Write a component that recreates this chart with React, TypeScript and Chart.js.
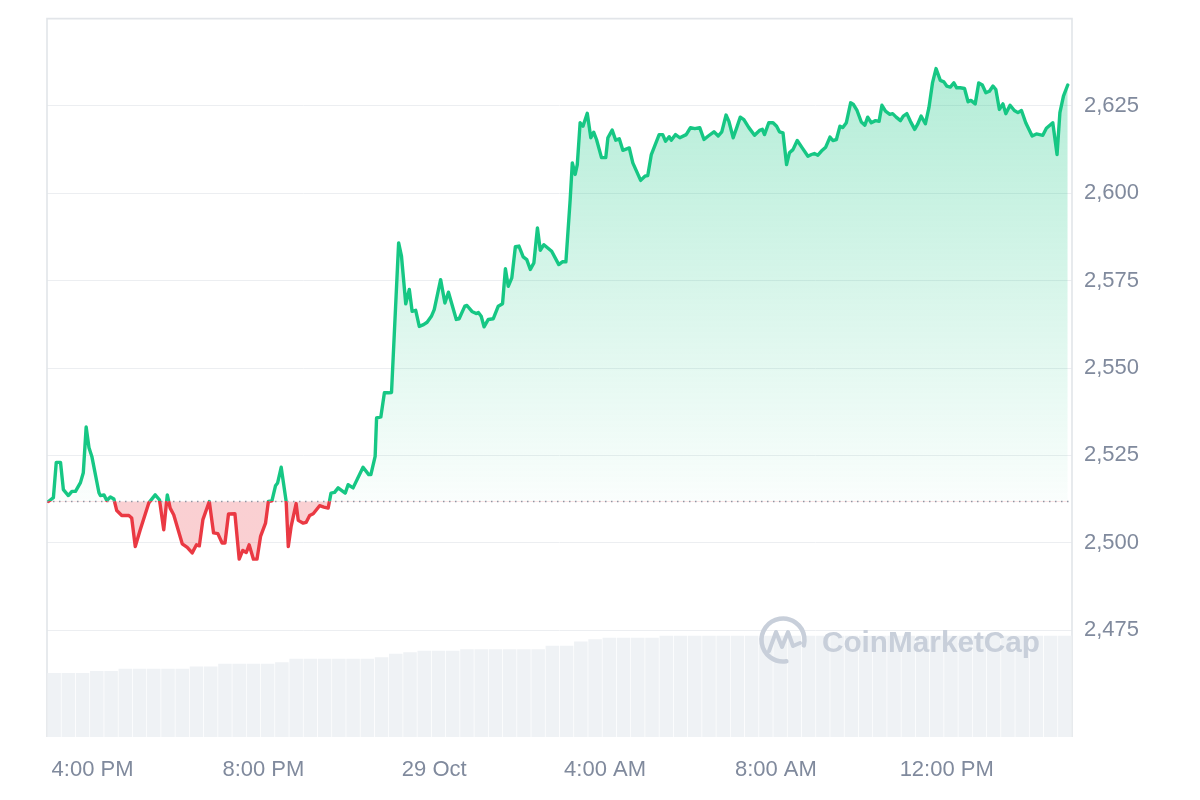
import React, { useEffect, useRef } from "react";
import { Chart, registerables } from "chart.js";

Chart.register(...registerables);

// Opening price (dotted reference line); times are minutes relative to 4:00 PM, 28 Oct
const BASE_PRICE = 2511.8;
const X_MIN = -64;
const X_MAX = 1376;
const Y_MIN = 2444.4;
const Y_MAX = 2650;
const VOL_MAX = 100;

const xTickValues = [0, 240, 480, 720, 960, 1200];
const xTickLabels = ["4:00 PM", "8:00 PM", "29 Oct", "4:00 AM", "8:00 AM", "12:00 PM"];
const yTickValues = [2475, 2500, 2525, 2550, 2575, 2600, 2625];

const priceTimes = [
  -62, -55, -51, -45, -41, -34, -29, -24, -17, -13, -9, -5, -1, 9, 11, 16, 20, 25, 30, 34,
  41, 51, 55, 60, 67, 79, 88, 94, 100, 105, 109, 114, 126, 133, 140, 146, 150, 155, 164, 170,
  176, 182, 186, 191, 200, 206, 211, 216, 220, 226, 231, 236, 243, 247, 252, 257, 260, 265, 272, 275,
  279, 286, 289, 296, 300, 305, 310, 319, 325, 331, 335, 340, 345, 355, 359, 366, 380, 388, 391, 397,
  399, 405, 410, 416, 420, 430, 434, 440, 445, 449, 454, 459, 465, 470, 476, 480, 489, 495, 500, 511,
  515, 523, 526, 533, 539, 542, 546, 550, 556, 563, 570, 576, 580, 584, 589, 594, 599, 605, 610, 615,
  620, 625, 629, 634, 645, 655, 660, 665, 671, 674, 678, 681, 685, 689, 695, 700, 704, 708, 715, 721,
  724, 730, 735, 740, 745, 754, 759, 770, 776, 780, 785, 796, 801, 805, 810, 813, 819, 825, 834, 840,
  846, 853, 859, 865, 873, 879, 884, 890, 894, 900, 905, 910, 915, 922, 930, 937, 941, 944, 950, 956,
  961, 965, 970, 975, 979, 984, 990, 997, 1005, 1010, 1014, 1019, 1024, 1030, 1036, 1040, 1045, 1050, 1054, 1059,
  1065, 1069, 1074, 1080, 1085, 1089, 1094, 1100, 1105, 1109, 1114, 1120, 1124, 1129, 1135, 1139, 1144, 1149, 1155, 1159,
  1164, 1170, 1175, 1180, 1185, 1191, 1196, 1200, 1205, 1210, 1214, 1219, 1225, 1230, 1234, 1240, 1245, 1250, 1255, 1260,
  1265, 1269, 1274, 1279, 1283, 1289, 1295, 1300, 1305, 1311, 1320, 1326, 1335, 1340, 1349, 1355, 1359, 1364, 1370,
];

const prices = [
  2511.8, 2512.9, 2523.0, 2523.0, 2515.2, 2513.5, 2514.7, 2514.7, 2517.2, 2520.0, 2533.1, 2527.2, 2524.7, 2514.3, 2513.5, 2513.7, 2512.1, 2513.1, 2512.5, 2509.2,
  2507.8, 2507.8, 2507.1, 2498.9, 2503.7, 2511.4, 2513.7, 2512.3, 2503.7, 2513.7, 2509.9, 2508.0, 2499.7, 2498.7, 2497.1, 2499.4, 2499.1, 2506.6, 2511.8, 2502.8,
  2502.6, 2499.9, 2499.9, 2508.2, 2508.3, 2495.3, 2497.8, 2497.2, 2499.4, 2495.3, 2495.3, 2501.8, 2505.6, 2511.8, 2512.0, 2516.3, 2517.1, 2521.6, 2511.8, 2498.9,
  2504.7, 2511.2, 2506.4, 2505.6, 2505.8, 2507.8, 2508.3, 2510.6, 2510.2, 2509.9, 2514.2, 2514.4, 2515.7, 2514.2, 2516.6, 2515.7, 2521.6, 2519.5, 2519.5, 2524.7,
  2535.7, 2536.0, 2542.9, 2542.9, 2543.0, 2585.8, 2582.0, 2568.4, 2572.5, 2566.2, 2566.5, 2561.9, 2562.4, 2563.1, 2564.8, 2566.7, 2575.3, 2568.6, 2571.7, 2563.9,
  2564.1, 2567.7, 2567.9, 2566.2, 2565.6, 2565.9, 2564.8, 2561.8, 2563.9, 2564.1, 2567.7, 2568.4, 2578.4, 2573.4, 2575.8, 2584.7, 2584.9, 2581.8, 2581.0, 2578.2,
  2580.1, 2590.1, 2583.7, 2585.3, 2583.4, 2579.6, 2580.4, 2580.4, 2598.2, 2608.7, 2605.4, 2608.2, 2620.2, 2619.2, 2622.9, 2615.9, 2617.5, 2615.4, 2610.2, 2610.2,
  2615.9, 2618.1, 2615.2, 2615.6, 2612.3, 2613.0, 2608.7, 2603.7, 2604.9, 2605.1, 2611.1, 2616.8, 2616.8, 2614.9, 2616.2, 2615.2, 2616.8, 2615.9, 2616.8, 2618.8,
  2618.5, 2618.8, 2615.4, 2616.4, 2617.6, 2616.4, 2617.6, 2622.4, 2620.6, 2615.9, 2618.8, 2621.8, 2621.1, 2618.8, 2616.6, 2618.0, 2618.3, 2616.8, 2620.2, 2620.2,
  2619.2, 2617.6, 2617.3, 2608.2, 2611.6, 2612.5, 2615.1, 2613.0, 2610.6, 2611.1, 2611.4, 2610.9, 2612.1, 2613.2, 2616.1, 2615.1, 2615.4, 2619.2, 2618.8, 2620.2,
  2625.9, 2625.4, 2623.7, 2620.4, 2619.5, 2621.8, 2620.2, 2620.8, 2620.6, 2625.2, 2623.5, 2622.6, 2622.8, 2621.8, 2620.8, 2622.1, 2622.8, 2620.6, 2618.3, 2619.7,
  2622.1, 2619.9, 2624.5, 2631.6, 2635.7, 2632.3, 2631.9, 2630.7, 2630.4, 2631.6, 2630.2, 2630.2, 2630.0, 2626.2, 2626.6, 2625.6, 2631.6, 2631.0, 2628.8, 2629.2,
  2630.7, 2629.7, 2624.0, 2625.6, 2622.8, 2625.2, 2623.7, 2623.1, 2623.7, 2620.2, 2616.4, 2617.0, 2616.6, 2618.6, 2620.2, 2611.1, 2623.1, 2627.8, 2631.0,
];

const volumeTimes = [
  -54, -34, -14, 6, 26, 46, 66, 86, 106, 126, 146, 166, 186, 206, 226, 246, 266, 286, 306, 326,
  346, 366, 386, 406, 426, 446, 466, 486, 506, 526, 546, 566, 586, 606, 626, 646, 666, 686, 706, 726,
  746, 766, 786, 806, 826, 846, 866, 886, 906, 926, 946, 966, 986, 1006, 1026, 1046, 1066, 1086, 1106, 1126,
  1146, 1166, 1186, 1206, 1226, 1246, 1266, 1286, 1306, 1326, 1346, 1366,
];

const volumes = [
  8.9, 8.9, 8.9, 9.2, 9.2, 9.5, 9.5, 9.5, 9.5, 9.5, 9.8, 9.8, 10.2, 10.2, 10.2, 10.2, 10.4, 10.9, 10.9, 10.9,
  10.9, 10.9, 10.9, 11.1, 11.6, 11.8, 12.0, 12.0, 12.0, 12.2, 12.2, 12.2, 12.2, 12.2, 12.2, 12.7, 12.7, 13.3, 13.6, 13.8,
  13.8, 13.8, 13.8, 14.1, 14.1, 14.1, 14.1, 14.1, 14.1, 14.1, 14.1, 14.1, 14.1, 14.1, 14.1, 14.1, 14.1, 14.1, 14.1, 14.1,
  14.1, 14.1, 14.1, 14.1, 14.1, 14.1, 14.1, 14.1, 14.1, 14.1, 14.1, 14.1,
];

const GREEN = "#16c784";
const RED = "#ea3943";
const TEXT = "#808a9d";
const FONT = "'Liberation Sans', Arial, sans-serif";

function baseFraction(chart: any) {
  const a = chart.chartArea;
  const yb = chart.scales.y.getPixelForValue(BASE_PRICE);
  return Math.min(Math.max((yb - a.top) / (a.bottom - a.top), 0), 1);
}

function lineGradient(chart: any) {
  const a = chart.chartArea;
  if (!a || !chart.scales.y) return GREEN;
  const f = baseFraction(chart);
  const g = chart.ctx.createLinearGradient(0, a.top, 0, a.bottom);
  g.addColorStop(0, GREEN);
  g.addColorStop(f, GREEN);
  g.addColorStop(f, RED);
  g.addColorStop(1, RED);
  return g;
}

function fillGradient(chart: any) {
  const a = chart.chartArea;
  if (!a || !chart.scales.y) return "rgba(22,199,132,0.2)";
  const f = baseFraction(chart);
  const g = chart.ctx.createLinearGradient(0, a.top, 0, a.bottom);
  g.addColorStop(0, "rgba(22,199,132,0.36)");
  g.addColorStop(f, "rgba(22,199,132,0.02)");
  g.addColorStop(f, "rgba(234,57,67,0.24)");
  g.addColorStop(1, "rgba(234,57,67,0.24)");
  return g;
}

const framePlugin = {
  id: "frame",
  beforeDatasetsDraw(chart: any) {
    const { ctx, chartArea: a } = chart;
    ctx.save();
    ctx.strokeStyle = "#e2e5e9";
    ctx.lineWidth = 1.6;
    ctx.beginPath();
    ctx.moveTo(a.left, a.bottom);
    ctx.lineTo(a.left, a.top);
    ctx.lineTo(a.right, a.top);
    ctx.lineTo(a.right, a.bottom);
    ctx.stroke();
    ctx.restore();
  },
};

const baselinePlugin = {
  id: "baseline",
  afterDatasetsDraw(chart: any) {
    const { ctx, chartArea: a } = chart;
    const y = chart.scales.y.getPixelForValue(BASE_PRICE);
    ctx.save();
    ctx.strokeStyle = "#8f96a3";
    ctx.lineWidth = 1.5;
    ctx.setLineDash([1.5, 4.5]);
    ctx.beginPath();
    ctx.moveTo(a.left, y);
    ctx.lineTo(a.right, y);
    ctx.stroke();
    ctx.restore();
  },
};

const watermarkPlugin = {
  id: "watermark",
  afterDatasetsDraw(chart: any) {
    const { ctx, chartArea: a } = chart;
    const cx = a.right - 289;
    const cy = a.bottom - 97;
    ctx.save();
    ctx.strokeStyle = "#c8cfda";
    ctx.fillStyle = "#c8cfda";
    ctx.lineCap = "round";
    ctx.lineJoin = "round";
    ctx.lineWidth = 4.5;
    ctx.beginPath();
    ctx.arc(cx, cy, 21.5, 0.45 * Math.PI, 2.08 * Math.PI);
    ctx.stroke();
    ctx.lineWidth = 4;
    ctx.beginPath();
    ctx.moveTo(cx - 14, cy + 11);
    ctx.lineTo(cx - 7, cy - 8);
    ctx.lineTo(cx - 1, cy + 7);
    ctx.lineTo(cx + 5, cy - 8);
    ctx.lineTo(cx + 10, cy + 6);
    ctx.lineTo(cx + 17, cy + 3);
    ctx.stroke();
    const text = "CoinMarketCap";
    ctx.font = `bold 30px ${FONT}`;
    const w = ctx.measureText(text).width;
    const size = 30 * (218 / w);
    ctx.font = `bold ${size}px ${FONT}`;
    ctx.textBaseline = "alphabetic";
    ctx.textAlign = "left";
    ctx.fillText(text, a.right - 250, a.bottom - 85);
    ctx.restore();
  },
};

export default function App() {
  const canvasRef = useRef<HTMLCanvasElement | null>(null);

  useEffect(() => {
    if (!canvasRef.current) return;
    const chart = new Chart(canvasRef.current, {
      type: "line",
      data: {
        datasets: [
          {
            type: "line",
            data: priceTimes.map((t, i) => ({ x: t, y: prices[i] })),
            xAxisID: "x",
            yAxisID: "y",
            borderWidth: 3.4,
            pointRadius: 0,
            pointHoverRadius: 0,
            tension: 0,
            borderJoinStyle: "round",
            borderCapStyle: "round",
            borderColor: (c: any) => lineGradient(c.chart),
            backgroundColor: (c: any) => fillGradient(c.chart),
            fill: { value: BASE_PRICE },
            order: 1,
          } as any,
          {
            type: "bar",
            data: volumeTimes.map((t, i) => ({ x: t, y: volumes[i] })),
            xAxisID: "x",
            yAxisID: "yv",
            backgroundColor: "#eff2f5",
            borderWidth: 0,
            barPercentage: 0.95,
            categoryPercentage: 1,
            order: 2,
          } as any,
        ],
      },
      options: {
        responsive: false,
        animation: false,
        devicePixelRatio: 1,
        layout: { padding: { left: 47, top: 18.6, right: 0, bottom: 0 } },
        plugins: {
          legend: { display: false },
          tooltip: { enabled: false },
        },
        scales: {
          x: {
            type: "linear",
            min: X_MIN,
            max: X_MAX,
            offset: false,
            grid: { display: false, offset: false },
            border: { display: false },
            afterBuildTicks: (s: any) => {
              s.ticks = xTickValues.map((v) => ({ value: v }));
            },
            afterFit: (s: any) => {
              s.height = 63;
              s.paddingLeft = 0;
              s.paddingRight = 0;
            },
            ticks: {
              autoSkip: false,
              maxRotation: 0,
              padding: 12,
              color: TEXT,
              font: { family: FONT, size: 22 },
              callback: (_v: any, i: number) => xTickLabels[i],
            },
          },
          y: {
            type: "linear",
            position: "right",
            min: Y_MIN,
            max: Y_MAX,
            grid: { color: "#eceef1", lineWidth: 1, drawTicks: false },
            border: { display: false },
            afterBuildTicks: (s: any) => {
              s.ticks = yTickValues.map((v) => ({ value: v }));
            },
            afterFit: (s: any) => {
              s.width = 128;
              s.paddingTop = 0;
              s.paddingBottom = 0;
            },
            ticks: {
              padding: 12,
              color: TEXT,
              font: { family: FONT, size: 22 },
              callback: (v: any) => Number(v).toLocaleString("en-US"),
            },
          },
          yv: {
            type: "linear",
            display: false,
            min: 0,
            max: VOL_MAX,
          },
        },
      } as any,
      plugins: [framePlugin, baselinePlugin, watermarkPlugin],
    });
    return () => chart.destroy();
  }, []);

  return (
    <div style={{ position: "fixed", left: 0, top: 0, width: 1200, height: 800, background: "#ffffff" }}>
      <canvas ref={canvasRef} width={1200} height={800} style={{ display: "block", width: 1200, height: 800 }} />
    </div>
  );
}
